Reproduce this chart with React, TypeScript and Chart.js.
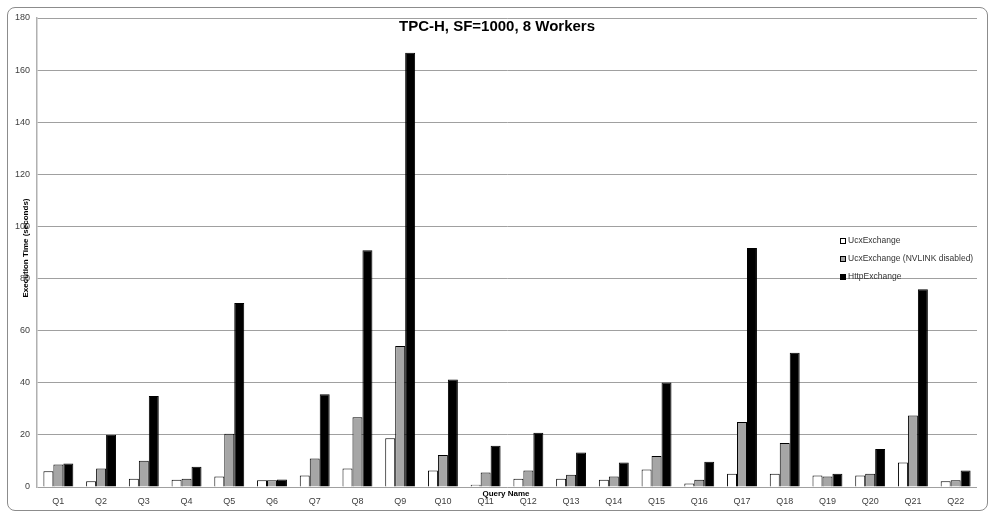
import React, { useEffect, useRef } from 'react';
import { Chart, ChartConfiguration, registerables } from 'chart.js';

Chart.register(...registerables);

const queries = [
  'Q1', 'Q2', 'Q3', 'Q4', 'Q5', 'Q6', 'Q7', 'Q8', 'Q9', 'Q10', 'Q11',
  'Q12', 'Q13', 'Q14', 'Q15', 'Q16', 'Q17', 'Q18', 'Q19', 'Q20', 'Q21', 'Q22'
];

const ucxExchange = [6.0, 2.2, 3.2, 2.8, 4.0, 2.6, 4.4, 7.1, 18.7, 6.3, 0.9, 3.2, 3.2, 2.8, 6.7, 1.3, 5.1, 5.1, 4.4, 4.4, 9.4, 2.2];
const ucxNoNvlink = [8.6, 7.1, 10.1, 3.2, 20.4, 2.6, 10.9, 26.8, 54.1, 12.3, 5.6, 6.3, 4.7, 4.0, 11.9, 2.8, 24.9, 16.9, 4.0, 5.1, 27.4, 2.6];
const httpExchange = [9.0, 20.1, 34.9, 7.8, 70.6, 2.9, 35.6, 90.9, 166.7, 41.3, 15.8, 20.8, 13.2, 9.4, 40.1, 9.7, 91.7, 51.5, 5.1, 14.6, 75.9, 6.3];

const seriesNames = ['UcxExchange', 'UcxExchange (NVLINK disabled)', 'HttpExchange'];
const seriesColors = ['#ffffff', '#a6a6a6', '#000000'];

const FONT = "'Liberation Sans', Arial, sans-serif";

// title, axis titles and legend sit inside the plot in the original, so draw them by hand
const overlayPlugin = {
  id: 'overlay',
  afterDraw(chart: Chart) {
    const { ctx } = chart;
    ctx.save();

    ctx.fillStyle = '#000';
    ctx.font = `bold 15px ${FONT}`;
    ctx.textAlign = 'center';
    ctx.textBaseline = 'middle';
    ctx.fillText('TPC-H, SF=1000, 8 Workers', 497, 27);

    ctx.font = `bold 8px ${FONT}`;
    ctx.fillText('Query Name', 506, 494);

    ctx.save();
    ctx.translate(26, 248);
    ctx.rotate(-Math.PI / 2);
    ctx.fillText('Execution Time (seconds)', 0, 0);
    ctx.restore();

    ctx.font = `8.5px ${FONT}`;
    ctx.textAlign = 'left';
    seriesNames.forEach((name, i) => {
      const y = 241 + i * 18;
      ctx.fillStyle = seriesColors[i];
      ctx.fillRect(840, y - 3, 6, 6);
      ctx.strokeStyle = '#000';
      ctx.lineWidth = 1;
      ctx.strokeRect(840.5, y - 2.5, 5, 5);
      ctx.fillStyle = '#333';
      ctx.fillText(name, 848, y);
    });

    ctx.restore();
  }
};

export default function App() {
  const chartRef = useRef<HTMLCanvasElement>(null);
  const chartInstanceRef = useRef<Chart | null>(null);

  useEffect(() => {
    if (!chartRef.current) return;
    const ctx = chartRef.current.getContext('2d');
    if (!ctx) return;

    const data = [ucxExchange, ucxNoNvlink, httpExchange];

    const config: ChartConfiguration<'bar'> = {
      type: 'bar',
      data: {
        labels: queries,
        datasets: data.map((values, i) => ({
          label: seriesNames[i],
          data: values,
          backgroundColor: seriesColors[i],
          borderColor: '#000000',
          borderWidth: 1,
          categoryPercentage: 0.7,
          barPercentage: 1.0
        }))
      },
      options: {
        responsive: false,
        animation: false,
        devicePixelRatio: 1,
        layout: {
          padding: { top: 18, right: 18, left: 0, bottom: 0 }
        },
        scales: {
          x: {
            grid: { display: false },
            border: { display: false },
            ticks: {
              color: '#404040',
              font: { family: FONT, size: 9 },
              padding: 1,
              maxRotation: 0
            },
            afterFit: (scale) => {
              scale.height = 32;
            }
          },
          y: {
            min: 0,
            max: 180,
            grid: { color: '#a0a0a0', drawTicks: false },
            border: { color: '#b0b0b0', width: 1.5 },
            ticks: {
              stepSize: 20,
              color: '#404040',
              font: { family: FONT, size: 9 },
              padding: 7
            },
            afterFit: (scale) => {
              scale.width = 37;
            }
          }
        },
        plugins: {
          legend: { display: false },
          title: { display: false },
          tooltip: { enabled: false }
        }
      },
      plugins: [overlayPlugin]
    };

    chartInstanceRef.current = new Chart(ctx, config);

    return () => {
      if (chartInstanceRef.current) {
        chartInstanceRef.current.destroy();
        chartInstanceRef.current = null;
      }
    };
  }, []);

  return (
    <div style={{ position: 'absolute', left: 0, top: 0, width: 995, height: 519, background: '#fff' }}>
      <div
        style={{
          position: 'absolute',
          left: 7,
          top: 7,
          width: 981,
          height: 504,
          border: '1px solid #8c8c8c',
          borderRadius: 8,
          boxSizing: 'border-box'
        }}
      />
      <canvas
        ref={chartRef}
        width={995}
        height={519}
        style={{ position: 'absolute', left: 0, top: 0, width: 995, height: 519 }}
      />
    </div>
  );
}
